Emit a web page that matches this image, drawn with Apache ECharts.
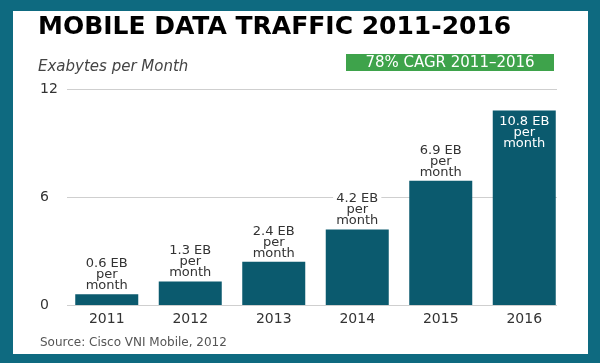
<!DOCTYPE html>
<html>
<head>
<meta charset="utf-8">
<script src="https://cdn.jsdelivr.net/npm/echarts@6/dist/echarts.min.js"></script>
<style>
  html, body { margin: 0; padding: 0; background: #0e6a80; }
  #panel { position: absolute; left: 13px; top: 11px; width: 575px; height: 343px; background: #ffffff; }
  #chart { position: absolute; left: 0; top: 0; width: 600px; height: 363px; }
</style>
</head>
<body>
<div id="panel"></div>
<div id="chart"></div>
<script>
const titleText = 'MOBILE DATA TRAFFIC 2011-2016';
const unitText = 'Exabytes per Month';
const badgeText = '78% CAGR 2011\u20132016';
const sourceText = 'Source: Cisco VNI Mobile, 2012';
const categories = ['2011', '2012', '2013', '2014', '2015', '2016'];
const trafficEB = [0.6, 1.3, 2.4, 4.2, 6.9, 10.8];
const yTicks = [0, 6, 12];

const FONT = 'DejaVu Sans';
const barColor = '#0b5a6e';

const chart = echarts.init(document.getElementById('chart'), null, { renderer: 'canvas' });

const barData = trafficEB.map(function (v, i) {
  const item = { value: v };
  if (i === trafficEB.length - 1) {
    item.label = {
      position: 'insideTop',
      distance: 5,
      color: '#ffffff',
      backgroundColor: 'transparent'
    };
  }
  return item;
});

const option = {
  backgroundColor: 'transparent',
  animation: false,
  title: {
    text: titleText,
    left: 38,
    top: 15,
    padding: 0,
    textStyle: { fontFamily: FONT, fontSize: 25, fontWeight: 'bold', color: '#000000' }
  },
  graphic: [
    {
      type: 'text',
      left: 38,
      top: 60,
      style: { text: unitText, font: 'italic 15px "DejaVu Sans"', fill: '#444444' }
    },
    {
      type: 'rect',
      shape: { x: 346, y: 54, width: 208, height: 17 },
      style: { fill: '#3ea34b' }
    },
    {
      type: 'text',
      x: 450,
      y: 63,
      style: { text: badgeText, font: '15px "DejaVu Sans"', fill: '#ffffff', align: 'center', verticalAlign: 'middle' }
    },
    {
      type: 'text',
      left: 40,
      top: 337,
      style: { text: sourceText, font: '12px "DejaVu Sans"', fill: '#555555' }
    }
  ],
  grid: [
    { left: 67, right: 43, top: 89, bottom: 58 },
    { left: 65, right: 34, top: 89, bottom: 58 }
  ],
  xAxis: [
    { type: 'category', gridIndex: 0, data: categories, show: false },
    {
      type: 'category', gridIndex: 1, data: categories,
      axisLine: { show: false }, axisTick: { show: false },
      axisLabel: { margin: 7, fontFamily: FONT, fontSize: 14, color: '#333333' }
    }
  ],
  yAxis: [
    {
      type: 'value', gridIndex: 0, min: yTicks[0], max: yTicks[yTicks.length - 1], interval: yTicks[1] - yTicks[0],
      axisLine: { show: false }, axisTick: { show: false },
      axisLabel: { margin: 27, align: 'left', fontFamily: FONT, fontSize: 14, color: '#333333' },
      splitLine: { lineStyle: { color: '#cfcfcf', width: 1 } }
    },
    {
      type: 'value', gridIndex: 1, min: yTicks[0], max: yTicks[yTicks.length - 1], interval: yTicks[1] - yTicks[0],
      show: false, splitLine: { show: false }
    }
  ],
  series: [
    {
      type: 'bar',
      xAxisIndex: 1,
      yAxisIndex: 1,
      data: barData,
      barWidth: 63,
      itemStyle: { color: barColor },
      label: {
        show: true,
        position: 'top',
        distance: 3,
        fontFamily: FONT,
        fontSize: 13,
        lineHeight: 11,
        color: '#333333',
        backgroundColor: '#ffffff',
        padding: [1, 3, 0, 3],
        align: 'center',
        formatter: function (p) { return p.value.toFixed(1) + ' EB\nper\nmonth'; }
      }
    }
  ]
};

chart.setOption(option);
</script>
</body>
</html>
